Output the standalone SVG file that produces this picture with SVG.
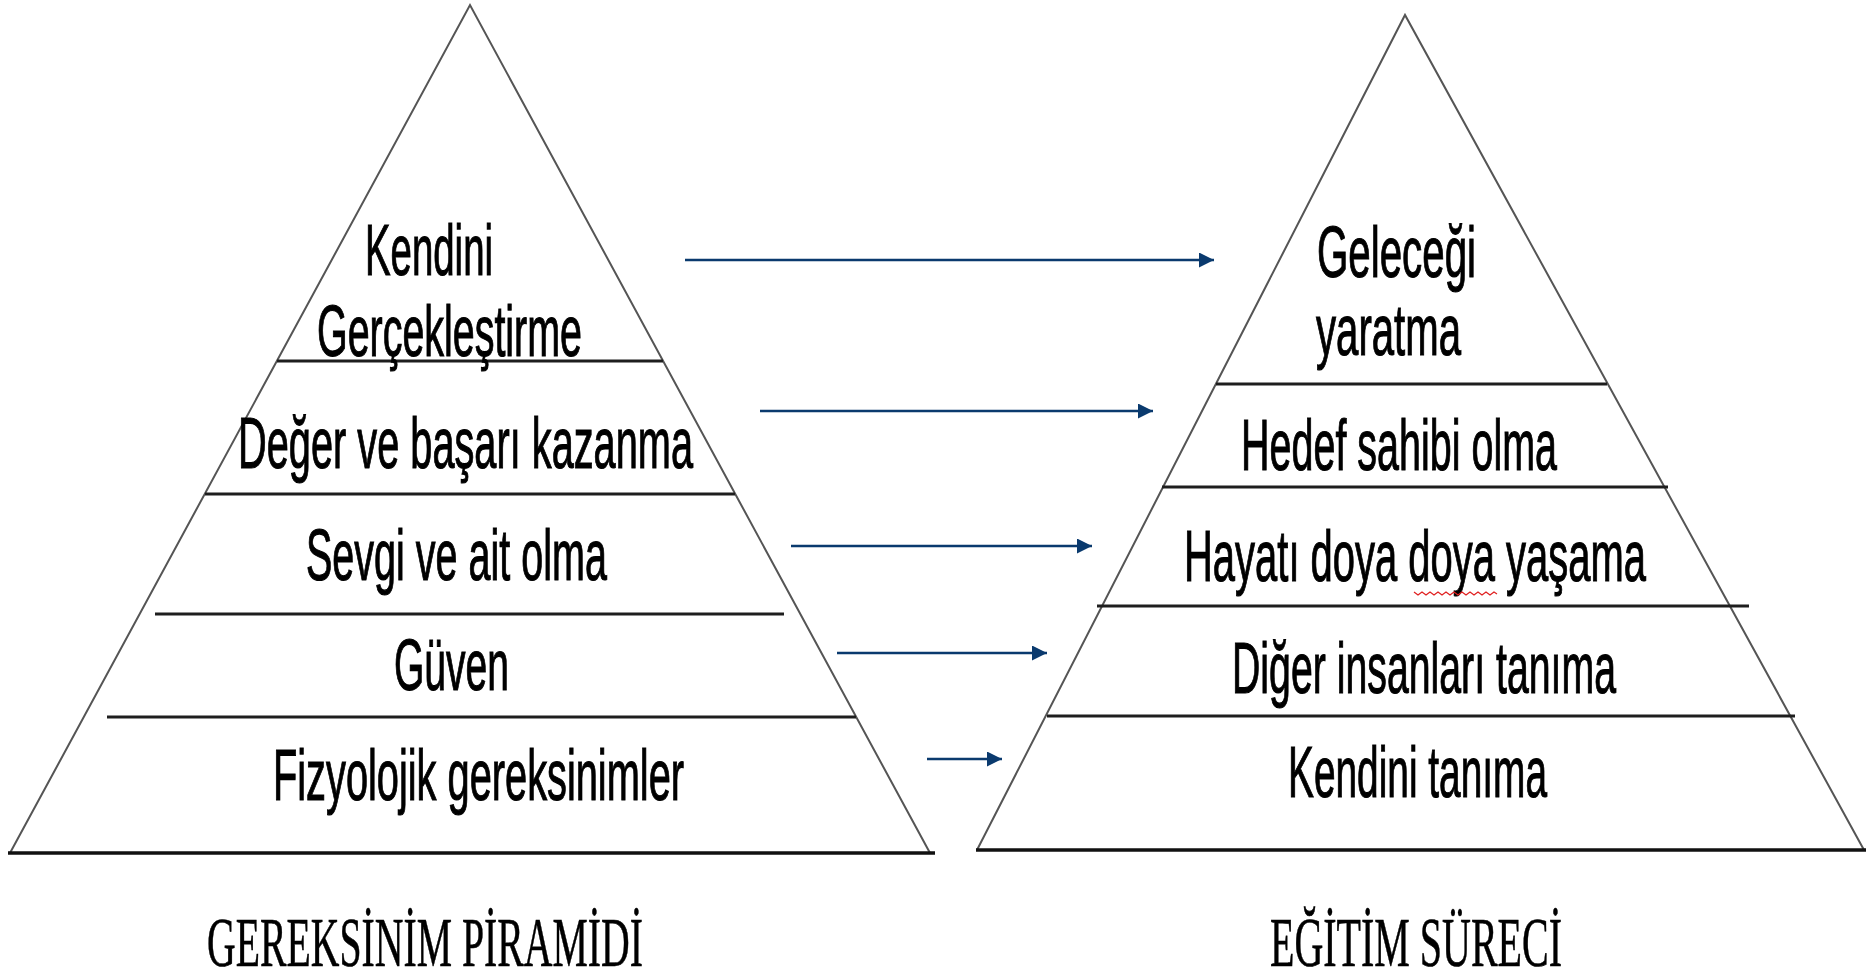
<svg xmlns="http://www.w3.org/2000/svg" width="1866" height="976" viewBox="0 0 1866 976">
<style>
.edge{fill:none;stroke:#555;stroke-width:2}
.div{stroke:#1e1e1e;stroke-width:3}
.base{stroke:#111;stroke-width:3.5}
.lbl{font-family:"Liberation Sans",Arial,sans-serif;font-size:72px;fill:#000;stroke:#000;stroke-width:1.1}
.ttl{font-family:"Liberation Serif","Times New Roman",serif;font-size:70px;fill:#000;stroke:#000;stroke-width:0.6}
.arr{stroke:#0a3a6e;stroke-width:2.5;fill:none}
</style>
<defs>
<marker id="ah" markerUnits="userSpaceOnUse" markerWidth="16" markerHeight="16" refX="15" refY="7.5" orient="auto">
<path d="M0,0 L15,7.5 L0,15 Z" fill="#0a3a6e"/>
</marker>
</defs>
<rect width="1866" height="976" fill="#fff"/>
<g id="pyramid-left">
<path class="edge" d="M10,853 L470,5 L930,853"/>
<line class="div" x1="277" y1="361" x2="663" y2="361"/>
<line class="div" x1="205" y1="494" x2="735" y2="494"/>
<line class="div" x1="155" y1="614" x2="784" y2="614"/>
<line class="div" x1="107" y1="717" x2="856" y2="717"/>
<line class="base" x1="8" y1="853" x2="935" y2="853"/>
</g>
<g id="node-kendini-gerceklestirme">
<text class="lbl" x="365" y="275" textLength="128" lengthAdjust="spacingAndGlyphs">Kendini</text>
<text class="lbl" x="317" y="356" textLength="265" lengthAdjust="spacingAndGlyphs">Gerçekleştirme</text>
</g>
<g id="node-deger"><text class="lbl" x="238" y="468" textLength="455" lengthAdjust="spacingAndGlyphs">Değer ve başarı kazanma</text></g>
<g id="node-sevgi"><text class="lbl" x="306" y="580" textLength="301" lengthAdjust="spacingAndGlyphs">Sevgi ve ait olma</text></g>
<g id="node-guven"><text class="lbl" x="394" y="690" textLength="115" lengthAdjust="spacingAndGlyphs">Güven</text></g>
<g id="node-fizyolojik"><text class="lbl" x="273" y="800" textLength="411" lengthAdjust="spacingAndGlyphs">Fizyolojik gereksinimler</text></g>
<g id="title-left"><text class="ttl" x="207" y="966" textLength="436" lengthAdjust="spacingAndGlyphs">GEREKSİNİM PİRAMİDİ</text></g>

<g id="pyramid-right">
<path class="edge" d="M977,850 L1405,15 L1864,850"/>
<line class="div" x1="1216" y1="384" x2="1607" y2="384"/>
<line class="div" x1="1162" y1="487" x2="1668" y2="487"/>
<line class="div" x1="1097" y1="606" x2="1749" y2="606"/>
<line class="div" x1="1047" y1="716" x2="1795" y2="716"/>
<line class="base" x1="976" y1="850" x2="1866" y2="850"/>
</g>
<g id="node-gelecegi">
<text class="lbl" x="1317" y="277" textLength="159" lengthAdjust="spacingAndGlyphs">Geleceği</text>
<text class="lbl" x="1316" y="355" textLength="145" lengthAdjust="spacingAndGlyphs">yaratma</text>
</g>
<g id="node-hedef"><text class="lbl" x="1241" y="470" textLength="316" lengthAdjust="spacingAndGlyphs">Hedef sahibi olma</text></g>
<g id="node-hayati">
<text class="lbl" x="1184" y="581" textLength="462" lengthAdjust="spacingAndGlyphs">Hayatı doya doya yaşama</text>
<polyline points="1414,592 1418,595 1422,592 1426,595 1430,592 1434,595 1438,592 1442,595 1446,592 1450,595 1454,592 1458,595 1462,592 1466,595 1470,592 1474,595 1478,592 1482,595 1486,592 1490,595 1494,592 1497,594" fill="none" stroke="#e02020" stroke-width="1.2"/>
</g>
<g id="node-diger"><text class="lbl" x="1232" y="693" textLength="384" lengthAdjust="spacingAndGlyphs">Diğer insanları tanıma</text></g>
<g id="node-kendini-tanima"><text class="lbl" x="1288" y="797" textLength="259" lengthAdjust="spacingAndGlyphs">Kendini tanıma</text></g>
<g id="title-right"><text class="ttl" x="1270" y="966" textLength="292" lengthAdjust="spacingAndGlyphs">EĞİTİM SÜRECİ</text></g>

<g id="connectors">
<line class="arr" x1="685" y1="260" x2="1214" y2="260" marker-end="url(#ah)"/>
<line class="arr" x1="760" y1="411" x2="1153" y2="411" marker-end="url(#ah)"/>
<line class="arr" x1="791" y1="546" x2="1092" y2="546" marker-end="url(#ah)"/>
<line class="arr" x1="837" y1="653" x2="1047" y2="653" marker-end="url(#ah)"/>
<line class="arr" x1="927" y1="759" x2="1002" y2="759" marker-end="url(#ah)"/>
</g>
</svg>
